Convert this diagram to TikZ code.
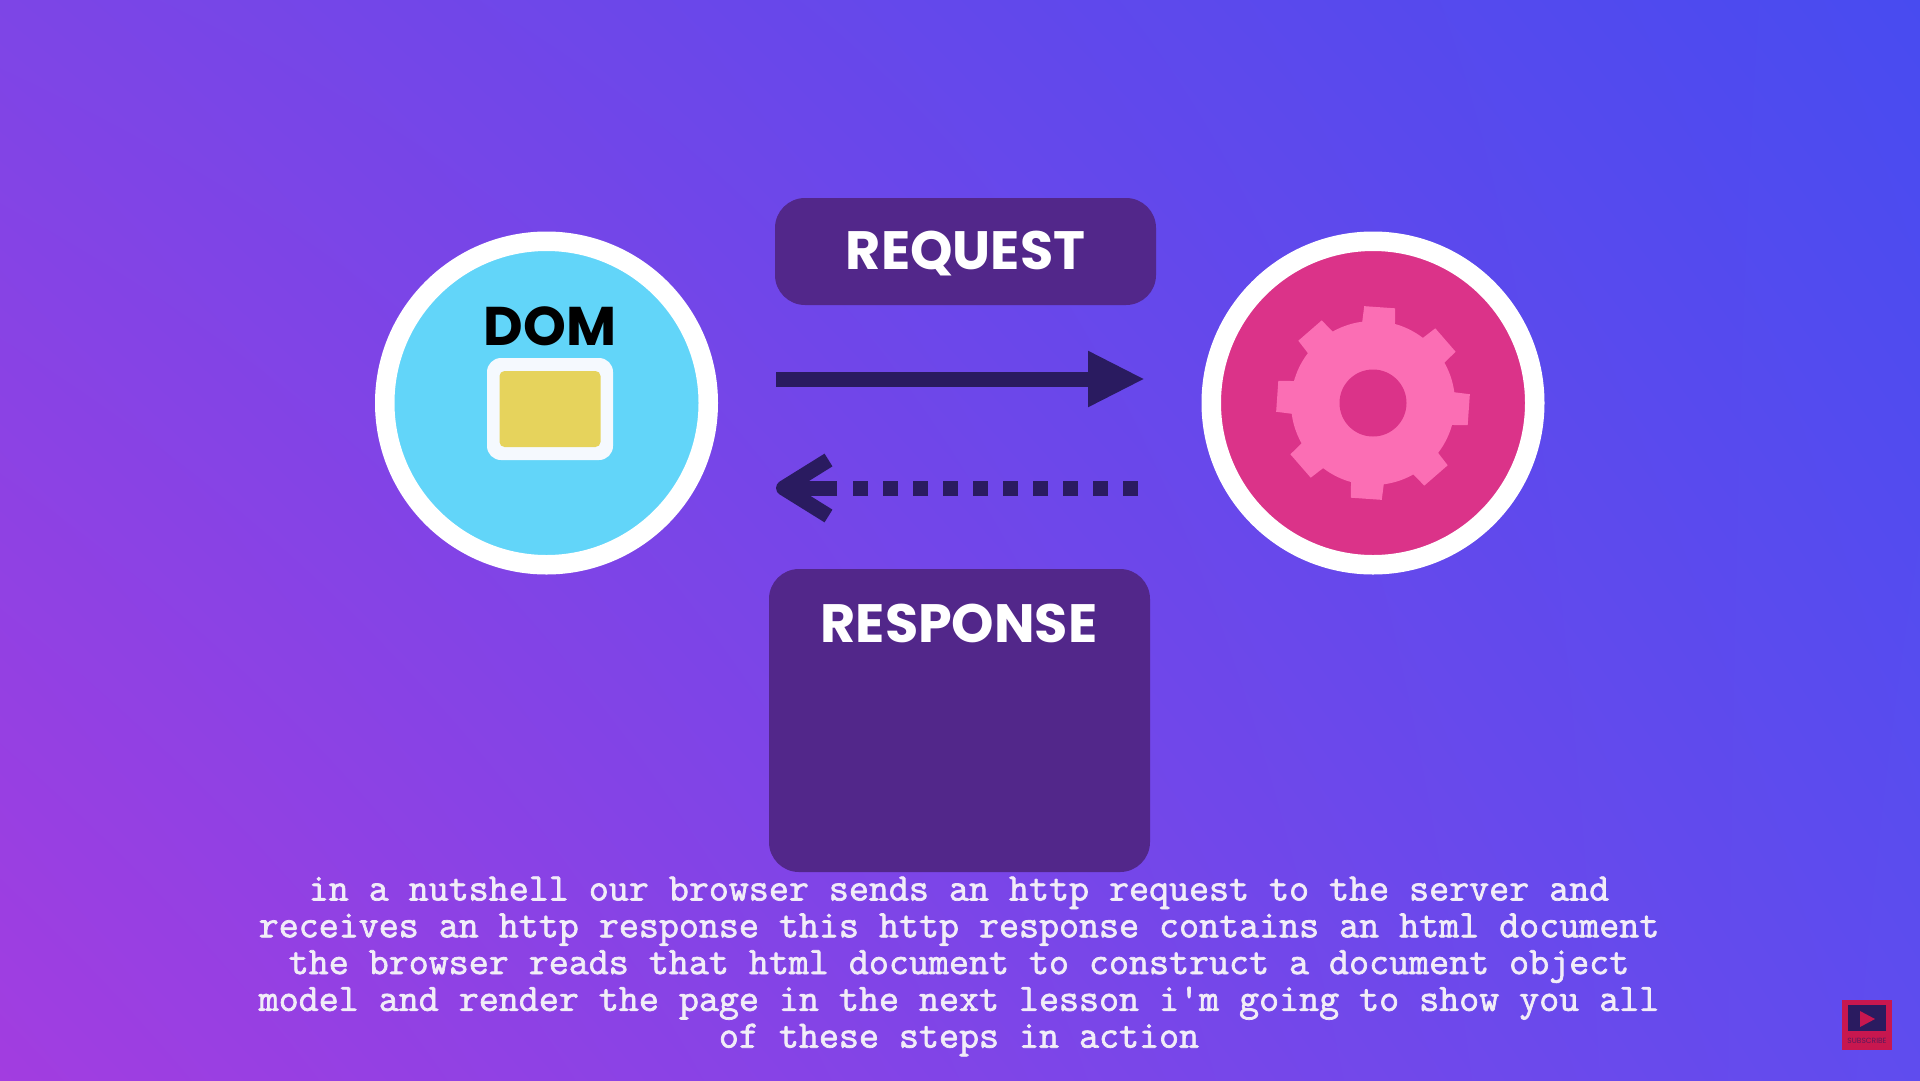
\documentclass[tikz,border=0pt]{standalone}
\usepackage{fontspec}
\setmainfont{Poppins}
\newfontfamily\captionfont[FakeBold=1.8]{Latin Modern Mono}
\usetikzlibrary{arrows.meta,shadings}
\definecolor{bgtl}{HTML}{7D45E6}
\definecolor{bgtr}{HTML}{484BF0}
\definecolor{bgbl}{HTML}{A23DE0}
\definecolor{bgbr}{HTML}{5F4CEE}
\definecolor{boxpurple}{HTML}{52278A}
\definecolor{arrowdark}{HTML}{2A1B60}
\definecolor{skyblue}{HTML}{62D5F9}
\definecolor{discpink}{HTML}{DB3389}
\definecolor{gearpink}{HTML}{FB6EB4}
\definecolor{cardyellow}{HTML}{E6D35C}
\definecolor{cardwhite}{HTML}{F5F9FE}
\definecolor{badgered}{HTML}{C8174F}
\definecolor{captionwhite}{HTML}{F1ECF8}
\tikzset{
 endpoint/.style={circle,draw=white,line width=19.5pt,minimum size=323.5pt,inner sep=0pt},
 labelbox/.style={fill=boxpurple,rounded corners=30pt,inner sep=0pt,text=white},
 labeltext/.style={font=\bfseries\fontsize{54}{54}\selectfont,text=white},
 reqline/.style={arrowdark,line width=15pt,-{Triangle[length=57pt,width=52pt]}},
 resdash/.style={arrowdark,line width=15pt,dash pattern=on 15pt off 15pt},
 reshead/.style={arrowdark,line width=15pt,-{Straight Barb[length=45pt,width=56pt,line cap=butt,line join=round]}},
 tooth/.style={fill=gearpink}
}
\begin{document}
\begin{tikzpicture}[x=1pt,y=-1pt]
 \useasboundingbox (0,0) rectangle (1920,1080);
 \shade[upper left=bgtl,upper right=bgtr,lower left=bgbl,lower right=bgbr] (0,0) rectangle (1920,1080);
 \node[endpoint,fill=skyblue] (browser) at (546.5,403) {};
 \node[endpoint,fill=discpink] (server) at (1373,403) {};
 \node[labelbox,minimum width=381pt,minimum height=107pt] (request) at (965.5,251.5) {};
 \node[labeltext] (requesttext) at (965.5,254) {REQUEST};
 \node[labelbox,minimum width=381pt,minimum height=303pt] (response) at (959.5,720.5) {};
 \node[labeltext] (responsetext) at (959,623) {RESPONSE};
 \node[font=\bfseries\fontsize{54.5}{54.5}\selectfont,text=black] (dom) at (550,326) {DOM};
 \node[fill=cardwhite,rounded corners=14pt,minimum width=126pt,minimum height=102pt,inner sep=0pt] (card) at (550,409) {};
 \node[fill=cardyellow,rounded corners=5pt,minimum width=101pt,minimum height=76pt,inner sep=0pt] (cardinner) at (550,409) {};
 \foreach \a in {-4,41,86,131,176,221,266,311}
  \fill[tooth,shift={(server)},rotate=\a] (70,-17) -- (96,-15.5) -- (96,15.5) -- (70,17) -- cycle;
 \fill[gearpink] (server) circle (82);
 \fill[discpink] (server) circle (33.5);
 \coordinate (reqstart) at (776,379);
 \coordinate (reqend) at (1145,379);
 \draw[reqline] (reqstart) -- (reqend);
 \coordinate (resstart) at (1138,488);
 \coordinate (resgap) at (853,488);
 \coordinate (resmid) at (837,488);
 \coordinate (resend) at (776,488);
 \draw[resdash] (resstart) -- (resgap);
 \draw[reshead] (resmid) -- (resend);
 \node[font=\captionfont\fontsize{38.85}{36.8}\selectfont,text=captionwhite,align=center,inner sep=0pt] (caption) at (959,966.5) {in a nutshell our browser sends an http request to the server and\\receives an http response this http response contains an html document\\the browser reads that html document to construct a document object\\model and render the page in the next lesson i'm going to show you all\\of these steps in action};
 \node[fill=badgered,minimum size=50pt,inner sep=0pt] (badge) at (1867,1025) {};
 \node[fill=arrowdark,minimum width=38pt,minimum height=26pt,inner sep=0pt] (screen) at (1867,1018) {};
 \fill[badgered] (1860,1011) -- (1875,1019) -- (1860,1027) -- cycle;
 \node[font=\fontsize{7.5}{7.5}\selectfont,text=arrowdark!70!badgered,inner sep=0pt] (subscribe) at (1867,1040.5) {SUBSCRIBE};
\end{tikzpicture}
\end{document}
